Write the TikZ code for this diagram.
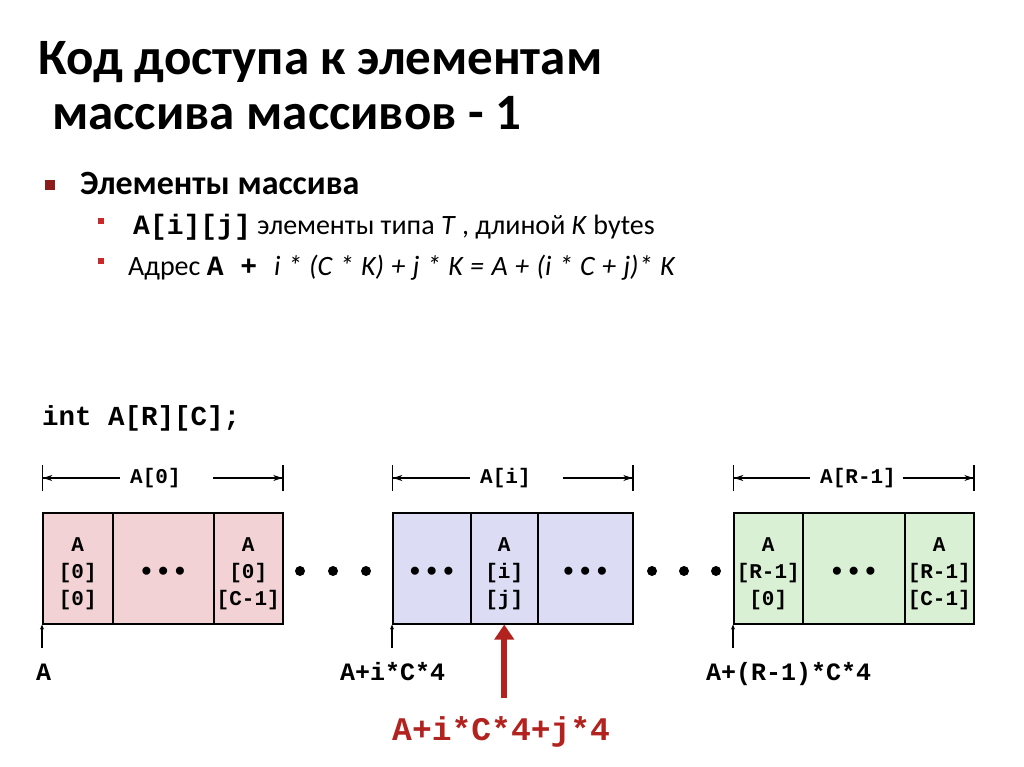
\documentclass[tikz,border=0pt]{standalone}
\usepackage{fontspec}
\setmainfont{Carlito}
\setmonofont{Liberation Mono}
\usetikzlibrary{arrows.meta, positioning}

\definecolor{rowpink}{RGB}{243,210,214}
\definecolor{rowblue}{RGB}{220,221,245}
\definecolor{rowgreen}{RGB}{218,240,212}
\definecolor{bulred}{RGB}{140,28,28}
\definecolor{subred}{RGB}{200,40,40}
\definecolor{addrred}{RGB}{178,34,30}

\newcommand{\cbf}{\ttfamily\bfseries}

\begin{document}
\begin{tikzpicture}[
    x=1pt, y=-1pt,
    >=Stealth,
    cell/.style={draw, line width=1.5pt, anchor=north west, minimum height=111pt,
                 align=center, inner sep=0pt, text height=75pt, text depth=0pt,
                 font=\cbf\fontsize{21}{27}\selectfont},
    dotcell/.style={cell, text height=25pt, text depth=0pt, font=\cbf\fontsize{28}{28}\selectfont},
    span/.style={line width=1.2pt,
                 {Bar[width=26pt]Stealth[length=9pt,width=6pt]}-{Stealth[length=9pt,width=6pt]Bar[width=26pt]}},
    spanlabel/.style={anchor=west, fill=white, text width=73pt, inner xsep=10pt, align=left,
                      font=\cbf\fontsize{21}{21}\selectfont},
    addr/.style={anchor=base west, inner sep=0pt, font=\cbf\fontsize{25}{25}\selectfont},
    tick/.style={line width=1.2pt, -{Stealth[length=5pt,width=4pt]}},
    bigbul/.style={fill=bulred, minimum size=10pt, inner sep=0pt},
    smallbul/.style={fill=subred, minimum size=6pt, inner sep=0pt},
    item/.style={anchor=base west, inner sep=0pt, font=\fontsize{28}{28}\selectfont},
]
\useasboundingbox (0,0) rectangle (1024,767);

% title
\node[anchor=base west, inner sep=0pt, font=\bfseries\fontsize{51}{51}\selectfont]
    (title1) at (38,75) {Код доступа к элементам};
\node[anchor=base west, inner sep=0pt, font=\bfseries\fontsize{51}{51}\selectfont]
    (title2) at (52,130) {массива массивов - 1};

% bullets
\node[bigbul] (bul0) at (50,185) {};
\node[anchor=base west, inner sep=0pt, font=\bfseries\fontsize{34}{34}\selectfont]
    (head0) at (80,195) {Элементы массива};
\node[smallbul] (bul1) at (101,221) {};
\node[item] (item1) at (133,235)
    {{\cbf A[i][j]} элементы типа \textit{T} , длиной \textit{K} bytes};
\node[smallbul] (bul2) at (101,261) {};
\node[item] (item2) at (128,275)
    {Адрес {\cbf A + }{\spaceskip=7.4pt\itshape i * (C * K) + j * K = A + (i * C + j)* K}};

\node[anchor=base west, inner sep=0pt, font=\cbf\fontsize{27.5}{27.5}\selectfont]
    (decl) at (42,425) {int A[R][C];};

% row 0
\node[cell, fill=rowpink, minimum width=70pt] (r0a) at (42,512) {A\\{[0]}\\{[0]}};
\node[dotcell, fill=rowpink, minimum width=101pt] (r0b) at (112,512) {•••};
\node[cell, fill=rowpink, minimum width=69pt] (r0c) at (213,512) {A\\{[0]}\\{[C-1]}};
% row i
\node[dotcell, fill=rowblue, minimum width=78pt] (r1a) at (392,512) {•••};
\node[cell, fill=rowblue, minimum width=67pt] (r1b) at (470,512) {A\\{[i]}\\{[j]}};
\node[dotcell, fill=rowblue, minimum width=95pt] (r1c) at (537,512) {•••};
% row R-1
\node[cell, fill=rowgreen, minimum width=69pt] (r2a) at (733,512) {A\\{[R-1]}\\{[0]}};
\node[dotcell, fill=rowgreen, minimum width=102pt] (r2b) at (802,512) {•••};
\node[cell, fill=rowgreen, minimum width=69pt] (r2c) at (904,512) {A\\{[R-1]}\\{[C-1]}};

% spans
\draw[span] ([yshift=34pt]r0a.north west) -- ([yshift=34pt]r0c.north east);
\node[spanlabel] (lab0) at ([xshift=78pt,yshift=34pt]r0a.north west) {A[0]};
\draw[span] ([yshift=34pt]r1a.north west) -- ([yshift=34pt]r1c.north east);
\node[spanlabel] (lab1) at ([xshift=78pt,yshift=34pt]r1a.north west) {A[i]};
\draw[span] ([yshift=34pt]r2a.north west) -- ([yshift=34pt]r2c.north east);
\node[spanlabel] (lab2) at ([xshift=77pt,yshift=34pt]r2a.north west) {A[R-1]};

% dots between rows
\foreach \x in {300,333,366,652,684,716}
    \fill (\x,571) circle (5);

% addresses
\node[addr] (addr0) at (36,680) {A};
\node[addr] (addr1) at (340,680) {A+i*C*4};
\node[addr] (addr2) at (706,680) {A+(R-1)*C*4};
\coordinate (t0) at (42,648);
\coordinate (t1) at (392,648);
\coordinate (t2) at (733,648);
\draw[tick] (t0) -- (r0a.south west);
\draw[tick] (t1) -- (r1a.south west);
\draw[tick] (t2) -- (r2a.south west);

\node[addr, text=addrred, font=\cbf\fontsize{33}{33}\selectfont] (addrij) at (392,740) {A+i*C*4+j*4};
\draw[addrred, line width=6pt, -{Triangle[length=15pt,width=19pt]}]
    ([yshift=18pt]addrij.north -| r1b.south) -- (r1b.south);

\end{tikzpicture}
\end{document}
